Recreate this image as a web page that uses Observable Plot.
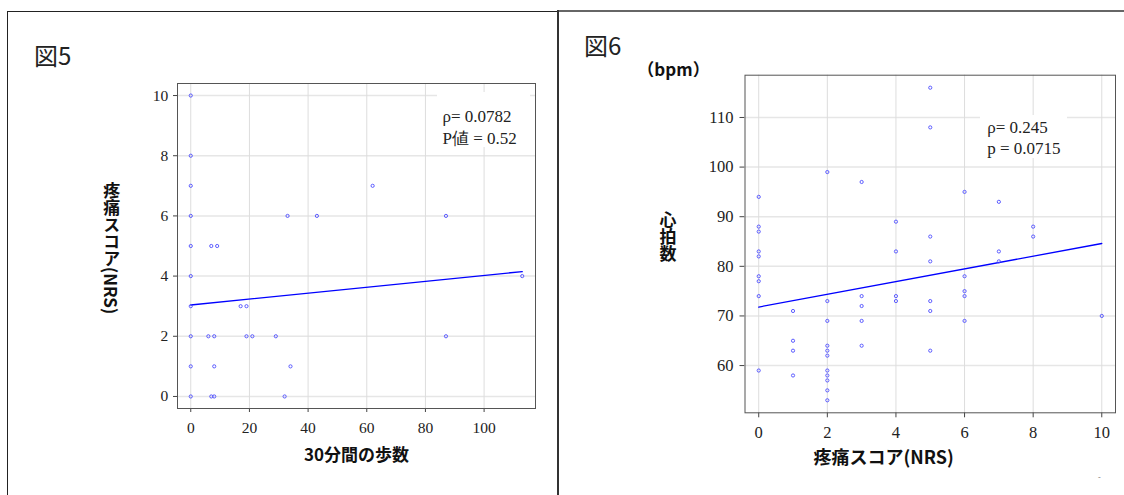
<!DOCTYPE html>
<html><head><meta charset="utf-8">
<script src="https://cdn.jsdelivr.net/npm/d3@7"></script>
<script src="https://cdn.jsdelivr.net/npm/@observablehq/plot@0.6"></script>
<style>
body{margin:0;background:#fff;}
#root{position:relative;width:1124px;height:495px;overflow:hidden;background:#fff;font-family:"Noto Sans CJK JP","Noto Sans",sans-serif;color:#111;}
.abs{position:absolute;line-height:1;white-space:nowrap;}
.title{font-size:24px;color:#222;}
.vlabel{position:absolute;writing-mode:vertical-rl;text-orientation:mixed;font-weight:bold;line-height:1;white-space:nowrap;transform:translate(-50%,-50%);color:#111;}
</style></head><body><div id="root"></div>
<script>
// ---------- 図5 data ----------
const fig5Steps = [0,0,0,0,0,0,0,0,0,0, 7,9,33,43,62,17,19,6,8,19,21,29,8,34,7,8,32,87,87,113];
const fig5Pain  = [10,8,7,6,5,4,3,2,1,0, 5,5,6,6,7,3,3,2,2,2,2,2,1,1,0,0,0,6,2,4];
const fig5FitX = [0, 113];
const fig5FitY = [3.04, 4.15];
const fig5XTicks = [0,20,40,60,80,100];
const fig5YTicks = [0,2,4,6,8,10];
const fig5XDomain = [-4.52, 117.52];
const fig5YDomain = [-0.4, 10.4];
const fig5Note = "ρ= 0.0782\nP値 = 0.52";
const fig5XLabel = "30分間の歩数";
const fig5YLabel = "疼痛スコア(NRS)";
const fig5Title = "図5";

// ---------- 図6 data ----------
const fig6Pain = [0,0,0,0,0,0,0,0,0, 1,1,1,1, 2,2,2,2,2,2,2,2,2,2,2, 3,3,3,3,3, 4,4,4,4, 5,5,5,5,5,5,5, 6,6,6,6,6, 7,7,7, 8,8, 10];
const fig6HeartRate = [94,88,87,83,82,78,77,74,59, 71,65,63,58, 99,73,69,64,63,62,59,58,57,55,53, 97,74,72,69,64, 89,83,74,73, 116,108,86,81,73,71,63, 95,78,75,74,69, 93,83,81, 88,86, 70];
const fig6FitX = [0, 10];
const fig6FitY = [71.8, 84.6];
const fig6XTicks = [0,2,4,6,8,10];
const fig6YTicks = [60,70,80,90,100,110];
const fig6XDomain = [-0.4, 10.4];
const fig6YDomain = [50.48, 118.52];
const fig6Note = "ρ= 0.245\np = 0.0715";
const fig6XLabel = "疼痛スコア(NRS)";
const fig6YLabel = "心拍数";
const fig6Unit = "（bpm）";
const fig6Title = "図6";

const serif = '"Liberation Serif","Times New Roman",serif';
const cjk = '"Noto Sans CJK JP","Noto Sans",sans-serif';

// white box behind the correlation note, placed relative to the frame's top-right corner
function noteBox(left, right, top, bottom) {
  return (index, scales, values, dims) => {
    const r = document.createElementNS("http://www.w3.org/2000/svg", "rect");
    const fx = dims.width - dims.marginRight;
    const fy = dims.marginTop;
    r.setAttribute("x", fx - left);
    r.setAttribute("width", left - right);
    r.setAttribute("y", fy + top);
    r.setAttribute("height", bottom - top);
    r.setAttribute("fill", "white");
    return r;
  };
}

const fig5Points = fig5Steps.map((s, i) => ({steps: s, pain: fig5Pain[i]}));
const fig5Fit = fig5FitX.map((x, i) => ({x, y: fig5FitY[i]}));
const fig6Points = fig6Pain.map((p, i) => ({pain: p, hr: fig6HeartRate[i]}));
const fig6Fit = fig6FitX.map((x, i) => ({x, y: fig6FitY[i]}));

const blank = () => "";

const plot5 = Plot.plot({
  width: 559, height: 495,
  marginLeft: 177, marginRight: 24, marginTop: 83, marginBottom: 87,
  style: {fontFamily: serif, fontSize: "15px", color: "#444", background: "transparent", overflow: "visible"},
  x: {domain: fig5XDomain, ticks: fig5XTicks, tickSize: 4, tickFormat: blank, label: null},
  y: {domain: fig5YDomain, ticks: fig5YTicks, tickSize: 4, tickFormat: blank, label: null},
  marks: [
    Plot.gridY(fig5YTicks, {stroke: "#e6e6e6", strokeOpacity: 1, strokeWidth: 1.5}),
    Plot.gridX(fig5XTicks, {stroke: "#dddddd", strokeOpacity: 1, strokeWidth: 1}),
    noteBox(98, 5, 9, 64),
    Plot.frame({stroke: "#555"}),
    Plot.text(fig5XTicks, {x: d => d, frameAnchor: "bottom", lineAnchor: "top", dy: 13.7, fontFamily: serif, fontSize: 15.5, fill: "#222"}),
    Plot.text(fig5YTicks, {y: d => d, frameAnchor: "left", textAnchor: "end", dx: -9.3, fontFamily: serif, fontSize: 15.5, fill: "#222"}),
    Plot.line(fig5Fit, {x: "x", y: "y", stroke: "#0000ff", strokeWidth: 1.3}),
    Plot.dot(fig5Points, {x: "steps", y: "pain", r: 1.6, stroke: "#4d4dff", strokeWidth: 0.9}),
    Plot.text([fig5Note], {frameAnchor: "top-right", textAnchor: "start", lineAnchor: "top", dx: -93, dy: 24, fontSize: 17, lineHeight: 1.24, fill: "#222", fontFamily: serif}),
    Plot.text([fig5XLabel], {frameAnchor: "bottom", dy: 52, fontSize: 17, fontWeight: "bold", fontFamily: cjk, fill: "#111"})
  ]
});

const plot6 = Plot.plot({
  width: 565, height: 495,
  marginLeft: 185.5, marginRight: 9, marginTop: 74.7, marginBottom: 82.7,
  style: {fontFamily: serif, fontSize: "16px", color: "#444", background: "transparent", overflow: "visible"},
  x: {domain: fig6XDomain, ticks: fig6XTicks, tickSize: 5, tickFormat: blank, label: null},
  y: {domain: fig6YDomain, ticks: fig6YTicks, tickSize: 5, tickFormat: blank, label: null},
  marks: [
    Plot.gridY(fig6YTicks, {stroke: "#e6e6e6", strokeOpacity: 1, strokeWidth: 1.5}),
    Plot.gridX(fig6XTicks, {stroke: "#dddddd", strokeOpacity: 1, strokeWidth: 1}),
    noteBox(135, 48, 40.3, 83.3),
    Plot.frame({stroke: "#555"}),
    Plot.text(fig6XTicks, {x: d => d, frameAnchor: "bottom", lineAnchor: "top", dy: 13.3, fontFamily: serif, fontSize: 16.5, fill: "#222"}),
    Plot.text(fig6YTicks, {y: d => d, frameAnchor: "left", textAnchor: "end", dx: -11.5, fontFamily: serif, fontSize: 16.5, fill: "#222"}),
    Plot.line(fig6Fit, {x: "x", y: "y", stroke: "#0000ff", strokeWidth: 1.3}),
    Plot.dot(fig6Points, {x: "pain", y: "hr", r: 1.6, stroke: "#4d4dff", strokeWidth: 0.9}),
    Plot.text([fig6Note], {frameAnchor: "top-right", textAnchor: "start", lineAnchor: "top", dx: -128.3, dy: 43.3, fontSize: 17, lineHeight: 1.22, fill: "#222", fontFamily: serif}),
    Plot.text([fig6XLabel], {frameAnchor: "bottom", dx: -46.7, dy: 51, fontSize: 18, fontWeight: "bold", fontFamily: cjk, fill: "#111"})
  ]
});

const root = document.getElementById("root");
function place(el, left, top) {
  el.style.position = "absolute"; el.style.left = left + "px"; el.style.top = top + "px";
  root.appendChild(el);
}
place(plot5, 0, 0);
place(plot6, 559, 0);

function div(cls, text, css) {
  const d = document.createElement("div");
  d.className = cls; d.textContent = text;
  Object.assign(d.style, css);
  root.appendChild(d);
  return d;
}
// panel borders
div("abs", "", {left: "7px", top: "11px", width: "551px", height: "490px", borderTop: "1.5px solid #222", borderLeft: "1.5px solid #222"});
div("abs", "", {left: "557px", top: "9.5px", width: "2px", height: "490px", background: "#333"});
div("abs", "", {left: "559px", top: "9.5px", width: "570px", height: "0px", borderTop: "2px solid #666"});

// titles and labels
div("abs title", fig5Title, {left: "34px", top: "42.5px"});
div("abs title", fig6Title, {left: "584px", top: "32.5px"});
div("abs", fig6Unit, {left: "673.5px", top: "68px", fontSize: "17px", fontWeight: "bold", transform: "translate(-50%,-50%)"});
div("vlabel", fig5YLabel, {left: "111.7px", top: "248px", fontSize: "17px"});
div("vlabel", fig6YLabel, {left: "668px", top: "236.7px", fontSize: "17px"});
div("abs", "-", {left: "1098px", top: "473px", fontSize: "8px", color: "#666"});
</script></body></html>
